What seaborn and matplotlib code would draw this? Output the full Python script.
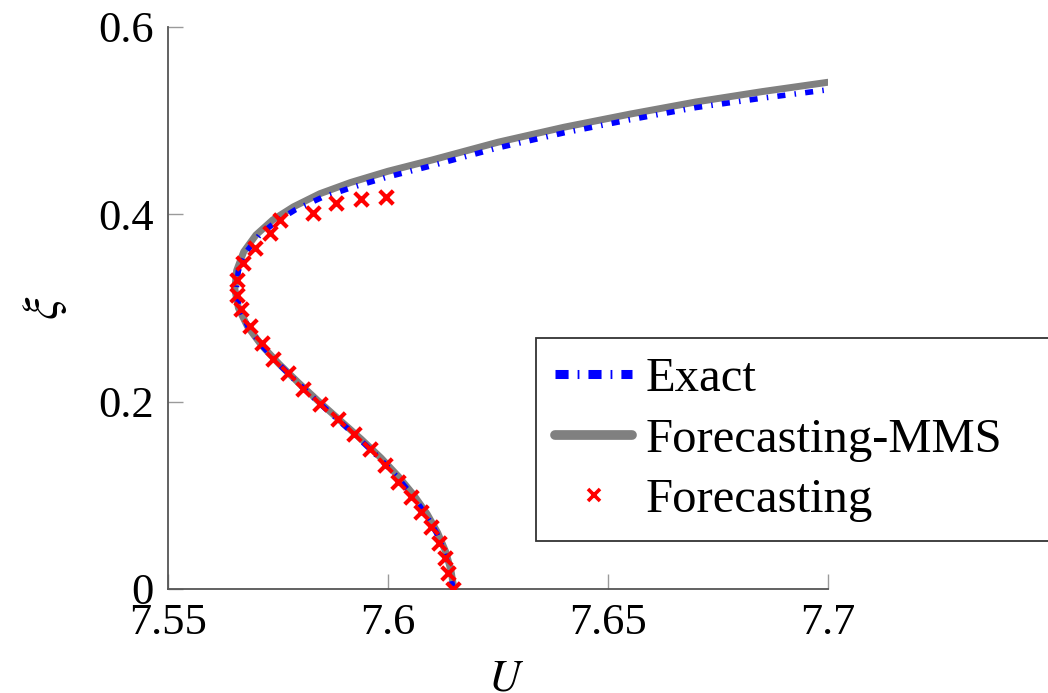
import numpy as np
import pandas as pd
import seaborn as sns
import matplotlib
matplotlib.use("Agg")
import matplotlib.pyplot as plt
from matplotlib.lines import Line2D

# ---------------- data ----------------
exact_U = [7.6148, 7.6140, 7.6128, 7.6110, 7.6085, 7.6055, 7.6020, 7.5980, 7.5935,
           7.5888, 7.5840, 7.5795, 7.5752, 7.5713, 7.5682, 7.5662, 7.5655, 7.5660,
           7.5678, 7.5708, 7.5745, 7.5790, 7.5850, 7.5920, 7.6000, 7.6100, 7.6250,
           7.6400, 7.6550, 7.6700, 7.6850, 7.7000]
exact_xi = [0.000, 0.020, 0.040, 0.060, 0.080, 0.100, 0.120, 0.140, 0.160,
            0.180, 0.200, 0.220, 0.240, 0.260, 0.280, 0.300, 0.320, 0.340,
            0.360, 0.378, 0.392, 0.405, 0.418, 0.429, 0.440, 0.452, 0.471,
            0.487, 0.501, 0.514, 0.524, 0.533]

mms_U = [7.6150, 7.6143, 7.6131, 7.6113, 7.6089, 7.6059, 7.6024, 7.5984, 7.5939,
         7.5891, 7.5843, 7.5797, 7.5753, 7.5713, 7.5681, 7.5660, 7.5652, 7.5656,
         7.5672, 7.5700, 7.5738, 7.5785, 7.5845, 7.5915, 7.6000, 7.6100, 7.6250,
         7.6400, 7.6550, 7.6700, 7.6850, 7.7000]
mms_xi = [0.000, 0.020, 0.040, 0.060, 0.080, 0.100, 0.120, 0.140, 0.160,
          0.180, 0.200, 0.220, 0.240, 0.260, 0.280, 0.300, 0.320, 0.340,
          0.360, 0.378, 0.394, 0.408, 0.422, 0.434, 0.446, 0.458, 0.477,
          0.493, 0.507, 0.520, 0.531, 0.541]

fc_U = [7.6148, 7.6136, 7.6130, 7.6116, 7.6098, 7.6075, 7.6052, 7.6023, 7.5993,
        7.5959, 7.5923, 7.5886, 7.5845, 7.5807, 7.5773, 7.5739, 7.5714, 7.5686,
        7.5666, 7.5657, 7.5657, 7.5670, 7.5698, 7.5732, 7.5755, 7.5830, 7.5882,
        7.5939, 7.5995]
fc_xi = [0.000, 0.017, 0.033, 0.049, 0.066, 0.082, 0.098, 0.114, 0.132,
         0.149, 0.165, 0.182, 0.198, 0.214, 0.231, 0.246, 0.263, 0.281,
         0.299, 0.314, 0.330, 0.348, 0.364, 0.380, 0.394, 0.401, 0.412,
         0.416, 0.418]

x_ticks = [7.55, 7.6, 7.65, 7.7]
x_ticklabels = ["7.55", "7.6", "7.65", "7.7"]
y_ticks = [0, 0.2, 0.4, 0.6]
y_ticklabels = ["0", "0.2", "0.4", "0.6"]
labels = ["Exact", "Forecasting-MMS", "Forecasting"]

# ---------------- style ----------------
sns.set_theme(style="white")
plt.rcParams["font.family"] = ["Liberation Serif", "DejaVu Serif"]
plt.rcParams["mathtext.fontset"] = "stix"
plt.rcParams["text.color"] = "black"

FS = 32
LFS = 35
fig = plt.figure(figsize=(10.48, 6.93), dpi=100)
ax = fig.add_axes([168 / 1048, 1 - 589 / 693, (828 - 168) / 1048, (589 - 27) / 693])

df_mms = pd.DataFrame({"U": mms_U, "xi": mms_xi})
df_ex = pd.DataFrame({"U": exact_U, "xi": exact_xi})
df_fc = pd.DataFrame({"U": fc_U, "xi": fc_xi})

sns.lineplot(data=df_mms, x="U", y="xi", sort=False, estimator=None, ax=ax,
             color="#808080", lw=5, zorder=2, legend=False)
sns.lineplot(data=df_ex, x="U", y="xi", sort=False, estimator=None, ax=ax,
             color="#0000ff", lw=4, zorder=3, legend=False)
ax.lines[-1].set_dashes((1.45, 1.66, 0.27, 1.66))
ax.lines[-1].set_dash_capstyle("butt")
sns.scatterplot(data=df_fc, x="U", y="xi", ax=ax, marker="x", color="#ff0000",
                s=95, linewidth=3.0, zorder=4, legend=False)

ax.set_xlim(7.55, 7.7)
ax.set_ylim(0, 0.6)
ax.set_xticks(x_ticks)
ax.set_xticklabels(x_ticklabels)
ax.set_yticks(y_ticks)
ax.set_yticklabels(y_ticklabels)
ax.tick_params(axis="both", direction="in", length=11, width=1.0, color="#9a9a9a",
               labelsize=FS, labelcolor="black", bottom=True, left=True)
ax.tick_params(axis="x", pad=10)
ax.tick_params(axis="y", pad=10)

for s in ["top", "right"]:
    ax.spines[s].set_visible(False)
for s in ["left", "bottom"]:
    ax.spines[s].set_color("#555555")
    ax.spines[s].set_linewidth(1.3)

ax.set_xlabel("$U$", fontsize=FS, color="black")
ax.set_ylabel(r"$\xi$", fontsize=36, color="black")
ax.xaxis.set_label_coords(0.512, -0.125)
ax.yaxis.set_label_coords(-0.15, 0.5)

h_ex = Line2D([], [], color="#0000ff", lw=6.5, dashes=(1.45, 1.0, 0.2, 1.0),
              dash_capstyle="butt")
h_mms = Line2D([], [], color="#808080", lw=7)
h_fc = Line2D([], [], color="#ff0000", lw=0, marker="x", markersize=9,
              markeredgewidth=2.6)
leg = fig.legend([h_ex, h_mms, h_fc], labels, loc="upper left",
                 bbox_to_anchor=(536 / 1048, 1 - 338 / 693, (1080 - 536) / 1048, 0),
                 mode="expand", borderaxespad=0,
                 fontsize=LFS, frameon=True, fancybox=False, framealpha=1,
                 edgecolor="#333333", handlelength=1.58, handletextpad=0.27,
                 borderpad=0.4, labelspacing=0.33)
leg.get_frame().set_linewidth(1.3)
for t in leg.get_texts():
    t.set_color("black")

fig.savefig("out.png", dpi=100)
